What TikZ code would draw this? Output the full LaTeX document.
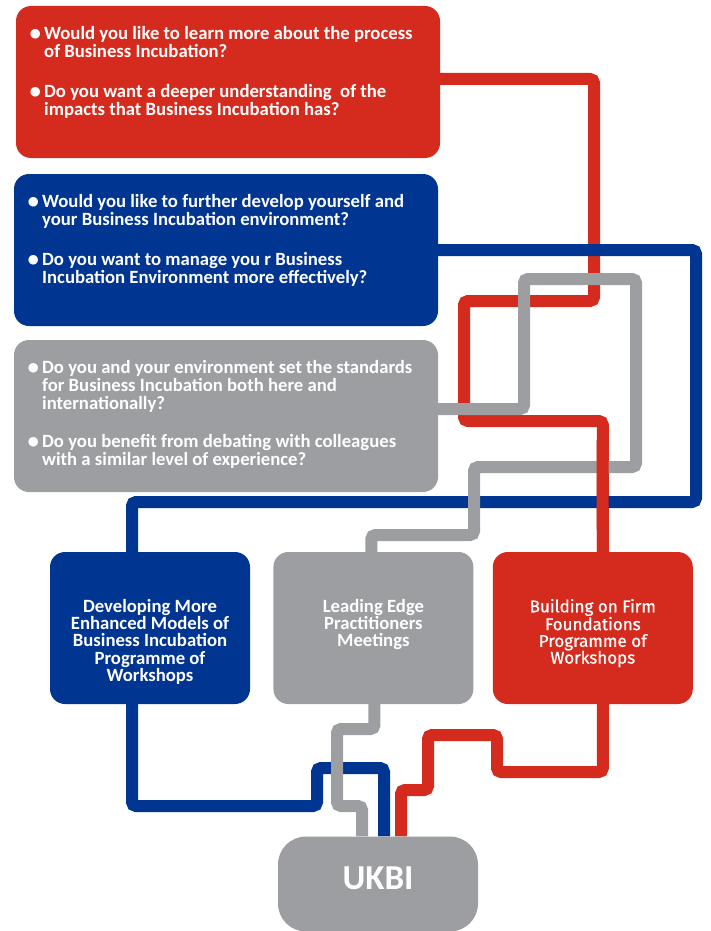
\documentclass[tikz,border=0pt]{standalone}
\usepackage{fontspec}
\setmainfont{Carlito}
\newfontfamily\firafont[FakeBold=0.8]{Fira Sans}
\newfontfamily\symfont{DejaVu Sans}
\usetikzlibrary{positioning,backgrounds}
\definecolor{ukred}{HTML}{D52B1E}
\definecolor{ukblue}{HTML}{003591}
\definecolor{ukgray}{HTML}{9D9EA2}
\newcommand{\blt}{\llap{\raisebox{1.7pt}{\symfont\fontsize{12.5}{12.5}\selectfont ●}\hspace{3.5pt}}}

\begin{document}
\begin{tikzpicture}[x=1pt,y=-1pt,
                box/.style={rectangle,rounded corners=15pt,inner sep=0pt,text=white},
                qbox/.style={box,minimum width=424pt,minimum height=152pt},
                pbox/.style={box,minimum width=200pt,minimum height=152pt},
                ptext/.style={inner sep=0pt,text=white,align=center,
                              font=\bfseries\fontsize{18.7}{17.3}\selectfont},
                qtext/.style={anchor=north west,inner sep=0pt,text=white,align=left,
                              font=\bfseries\fontsize{18.7}{18}\selectfont},
                link/.style={line width=12pt,rounded corners=4pt},
                node distance=23pt]
                \useasboundingbox (0,0) rectangle (710,931);
                % questions
                \node[qbox,fill=ukred] (qred) at (228,82) {};
                \node[qbox,fill=ukblue] (qblue) at (226,250) {};
                \node[qbox,fill=ukgray] (qgray) at (226,416) {};
                \node[qtext] (r1) at (44,26) {\blt Would you like to learn more about the process\\of Business Incubation?};
                \node[qtext] (r2) at (44,84) {\blt Do you want a deeper understanding\ \ of the\\impacts that Business Incubation has?};
                \node[qtext] (b1) at (42,194) {\blt Would you like to further develop yourself and\\your Business Incubation environment?};
                \node[qtext] (b2) at (42,252) {\blt Do you want to manage you r Business\\Incubation Environment more effectively?};
                \node[qtext] (g1) at (42,360) {\blt Do you and your environment set the standards\\for Business Incubation both here and\\internationally?};
                \node[qtext] (g2) at (42,434) {\blt Do you benefit from debating with colleagues\\with a similar level of experience?};
                % programmes
                \node[pbox,fill=ukblue] (dev) at (150,628) {};
                \node[pbox,fill=ukgray] (lead)[right=of dev]{};
                \node[pbox,fill=ukred,node distance=19pt] (build)[right=of lead]{};
                \node[ptext,below=47pt of dev.north] (devtext) {Developing More\\Enhanced Models of\\Business Incubation\\Programme of\\Workshops};
                \node[ptext,below=47pt of lead.north] (leadtext) {Leading Edge\\Practitioners\\Meetings};
                \node[ptext,below=47pt of build.north,font=\firafont\fontsize{17}{16.7}\selectfont] (buildtext) {Building on Firm\\Foundations\\Programme of\\Workshops};
                \node[box,fill=ukgray,rounded corners=28pt,minimum width=200pt,minimum height=95pt,text depth=11pt,
                      font=\bfseries\fontsize{35}{35}\selectfont] (ukbi) at (378,884) {UKBI};
                % links
                \begin{scope}[on background layer]
                \draw[link,ukred] ([yshift=3pt]qred.east) -| (594,301) -| (464,421) -| ([xshift=10pt]build.north);
                \draw[link,ukblue] (qblue.east) -| (696,502) -| ([xshift=-18pt]dev.north);
                \draw[link,ukgray] ([yshift=7pt]qgray.east) -| (524,279) -| (636,467) -| (474,535) -| ([xshift=-2pt]lead.north);
                \draw[link,ukred] (602.5,440) -- ([xshift=10pt]build.north);
                \draw[link,ukblue] ([xshift=-18pt]dev.south) |- (317,806) |- (384,768) -- ([xshift=6pt]ukbi.north);
                \draw[link,ukgray] ([xshift=1pt]lead.south) |- (337,729) |- (362,806) -- ([xshift=-16pt]ukbi.north);
                \draw[link,ukred] ([xshift=10pt]build.south) |- (497,772) |- (428,735) |- (401,790) -- ([xshift=23pt]ukbi.north);
                \end{scope}
\end{tikzpicture}
\end{document}
